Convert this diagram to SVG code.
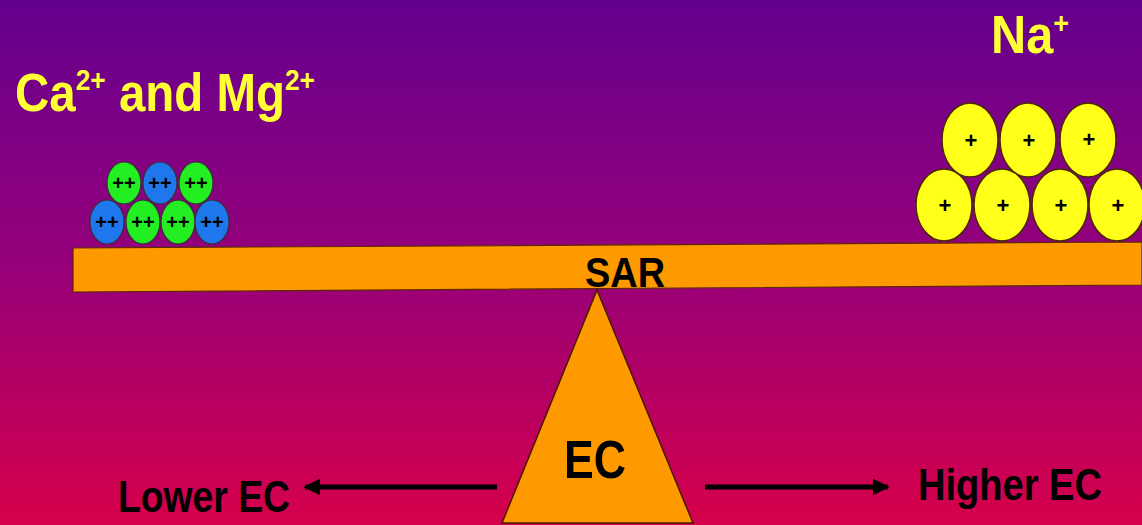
<svg xmlns="http://www.w3.org/2000/svg" width="1142" height="525" viewBox="0 0 1142 525">
<defs>
<linearGradient id="bg" x1="0" y1="0" x2="0" y2="1">
<stop offset="0" stop-color="#64008e"/>
<stop offset="0.5" stop-color="#96007a"/>
<stop offset="1" stop-color="#d6004a"/>
</linearGradient>
<marker id="ah" viewBox="0 0 10 10" refX="9" refY="5" markerWidth="3.4" markerHeight="3.4" orient="auto">
<path d="M0,0 L10,5 L0,10 z" fill="#000"/>
</marker>
<style>
.lbl{font-family:"Liberation Sans",Arial,sans-serif;font-weight:bold}
.yel{fill:#ffff33}
.blk{fill:#000}
.g{fill:#22ee22;stroke:#333;stroke-width:1.2}
.b{fill:#1f77ee;stroke:#333;stroke-width:1.2}
.y{fill:#ffff1a;stroke:#4a2a00;stroke-width:1.5}
.pp{font-family:"Liberation Sans",Arial,sans-serif;font-weight:bold;font-size:20px;fill:#000;text-anchor:middle}
.p{font-family:"Liberation Sans",Arial,sans-serif;font-weight:bold;font-size:22px;fill:#000;text-anchor:middle}
.arr{stroke:#000;stroke-width:5;fill:none;marker-end:url(#ah)}
</style>
</defs>
<rect width="1142" height="525" fill="url(#bg)"/>

<g id="label-ca-mg">
<text class="lbl yel" x="15" y="111" font-size="54" textLength="300" lengthAdjust="spacingAndGlyphs">Ca<tspan font-size="30" dy="-21">2+</tspan><tspan dy="21"> and Mg</tspan><tspan font-size="30" dy="-21">2+</tspan></text>
</g>
<g id="label-na">
<text class="lbl yel" x="991" y="53" font-size="54" textLength="78" lengthAdjust="spacingAndGlyphs">Na<tspan font-size="30" dy="-20">+</tspan></text>
</g>

<g id="beam">
<polygon points="73,248 1142,242 1142,285 73,292" fill="#ff9900" stroke="#5a2a00" stroke-width="1.2"/>
<text class="lbl blk" x="625" y="287" font-size="42" text-anchor="middle" textLength="80" lengthAdjust="spacingAndGlyphs">SAR</text>
</g>

<g id="fulcrum">
<polygon points="597,290 693,523 502,523" fill="#ff9900" stroke="#4a1a00" stroke-width="1.5"/>
<text class="lbl blk" x="595" y="478" font-size="54" text-anchor="middle" textLength="62" lengthAdjust="spacingAndGlyphs">EC</text>
</g>

<g id="ca-mg-ions">
<ellipse class="b" cx="107" cy="222" rx="17" ry="22"/>
<ellipse class="g" cx="143" cy="222" rx="17" ry="22"/>
<ellipse class="g" cx="178" cy="222" rx="17" ry="22"/>
<ellipse class="b" cx="212" cy="222" rx="17" ry="22"/>
<ellipse class="g" cx="124" cy="183" rx="17" ry="21"/>
<ellipse class="b" cx="160" cy="183" rx="17" ry="21"/>
<ellipse class="g" cx="196" cy="183" rx="17" ry="21"/>
<text class="pp" x="107" y="229">++</text>
<text class="pp" x="143" y="229">++</text>
<text class="pp" x="178" y="229">++</text>
<text class="pp" x="212" y="229">++</text>
<text class="pp" x="124" y="190">++</text>
<text class="pp" x="160" y="190">++</text>
<text class="pp" x="196" y="190">++</text>
</g>

<g id="na-ions">
<ellipse class="y" cx="970" cy="140" rx="28" ry="37"/>
<ellipse class="y" cx="1028" cy="140" rx="28" ry="37"/>
<ellipse class="y" cx="1088" cy="140" rx="28" ry="37"/>
<ellipse class="y" cx="944" cy="205" rx="28" ry="36"/>
<ellipse class="y" cx="1002" cy="205" rx="28" ry="36"/>
<ellipse class="y" cx="1060" cy="205" rx="28" ry="36"/>
<ellipse class="y" cx="1117" cy="205" rx="28" ry="36"/>
<text class="p" x="971" y="148">+</text>
<text class="p" x="1029" y="148">+</text>
<text class="p" x="1089" y="147">+</text>
<text class="p" x="945" y="213">+</text>
<text class="p" x="1003" y="213">+</text>
<text class="p" x="1061" y="213">+</text>
<text class="p" x="1118" y="213">+</text>
</g>

<g id="lower-ec">
<text class="lbl blk" x="118" y="512" font-size="44" textLength="172" lengthAdjust="spacingAndGlyphs">Lower EC</text>
</g>
<g id="higher-ec">
<text class="lbl blk" x="918" y="500" font-size="44" textLength="184" lengthAdjust="spacingAndGlyphs">Higher EC</text>
</g>

<g id="connectors">
<line class="arr" x1="497" y1="487" x2="305" y2="487"/>
<line class="arr" x1="705" y1="487" x2="888" y2="487"/>
</g>
</svg>
